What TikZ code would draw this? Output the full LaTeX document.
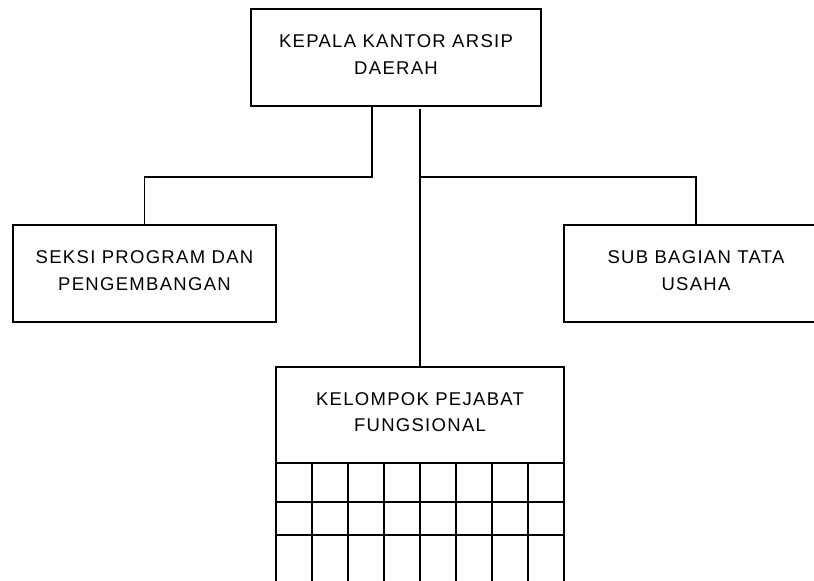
\documentclass[tikz,border=0pt]{standalone}
\usepackage{fontspec}
\setmainfont{Liberation Sans}[LetterSpace=7]
\tikzset{box/.style={draw, line width=1.5pt, inner sep=0pt, align=center, minimum height=97pt, text depth=6pt, font=\fontsize{18.5}{26.3}\selectfont}}

\begin{document}
\begin{tikzpicture}[x=1pt,y=-1pt,line width=1.5pt]
              \useasboundingbox (0,0) rectangle (814,581);
              \node[box,minimum width=290pt](kepala)at(396,57.5){KEPALA KANTOR ARSIP\\DAERAH};
              \node[box,minimum width=263pt](seksi)at(144.5,273.5){SEKSI PROGRAM DAN\\PENGEMBANGAN};
              \node[box,minimum width=264pt](subbag)at(696,273.5){SUB BAGIAN TATA\\USAHA};
              \node[box,minimum width=288pt,minimum height=96pt](fungsional)at(420,415){KELOMPOK PEJABAT\\FUNGSIONAL};
              \coordinate (jl) at (372,177);
              \coordinate (jr) at (420,177);
              \draw (kepala.south -| jl) -- (jl) -| (seksi.north);
              \draw ([yshift=-2pt]kepala.south -| jr) -- (fungsional.north);
              \draw (jr) -| (subbag.north);
              % kolom pejabat fungsional
              \foreach \i in {0,...,8} \draw (276+36*\i,463) -- (276+36*\i,600);
              \foreach \j in {502,535} \draw (276,\j) -- (564,\j);
            \end{tikzpicture}
\end{document}
